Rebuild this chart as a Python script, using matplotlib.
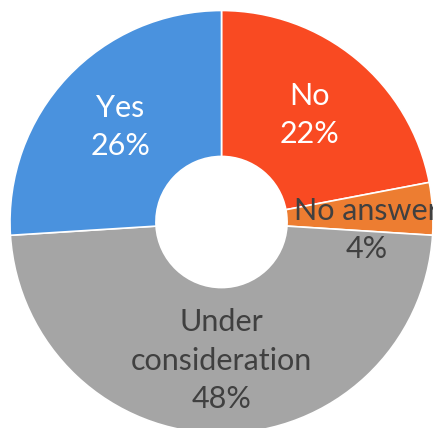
import numpy as np
import matplotlib.pyplot as plt

labels = ["No", "No answer", "Under\nconsideration", "Yes"]
shares = [22, 4, 48, 26]
colors = ["#F94A22", "#ED7D31", "#A5A5A5", "#4A92DE"]
text_colors = ["white", "#404040", "#404040", "white"]

plt.rcParams["font.family"] = ["Lato", "DejaVu Sans"]

fig = plt.figure(figsize=(4.33, 4.28), dpi=100)
ax = fig.add_axes([0, 0, 1, 1])

wedges, _ = ax.pie(shares, colors=colors, startangle=90, counterclock=False,
                   radius=1.0,
                   wedgeprops=dict(width=0.69, edgecolor="white", linewidth=1.2))

# the small slice gets its label nudged outward/down so it fits
nudge = {1: (7, -17)}
for i, w in enumerate(wedges):
    mid = np.deg2rad((w.theta1 + w.theta2) / 2)
    x, y = 0.655 * np.cos(mid), 0.655 * np.sin(mid)
    ax.annotate(f"{labels[i]}\n{shares[i]}%", (x, y),
                xytext=nudge.get(i, (0, 0)), textcoords="offset pixels",
                ha="center", va="center", fontsize=22, color=text_colors[i],
                linespacing=1.45)

# centre of the ring sits at (221.5, 222) px, outer radius 211.5 px
r_px = 211.5
ax.set_xlim(-221.5 / r_px, (433 - 221.5) / r_px)
ax.set_ylim(-(428 - 222) / r_px, 222 / r_px)
ax.set_aspect("equal")
ax.axis("off")

fig.savefig("out.png", dpi=100)
